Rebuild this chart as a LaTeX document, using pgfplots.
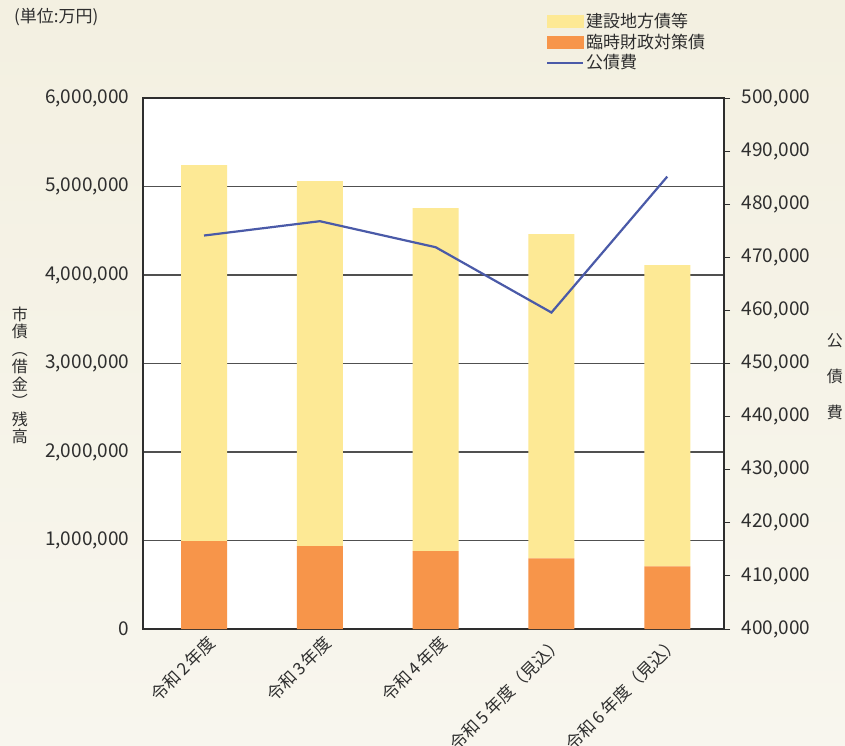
\documentclass[border=0pt]{standalone}
\usepackage{pgfplots}
\pgfplotsset{compat=1.18}
\usepackage{fontspec}
\setmainfont{Noto Sans CJK JP}
\definecolor{bgtop}{HTML}{F3F0E1}
\definecolor{bgbot}{HTML}{F8F6EE}
\definecolor{barY}{HTML}{FDE995}
\definecolor{barO}{HTML}{F7954A}
\definecolor{lineB}{HTML}{4A5AA8}
\definecolor{txt}{HTML}{2E2E2E}
\definecolor{gridc}{HTML}{505050}
\begin{document}
\begin{tikzpicture}
\useasboundingbox (0pt,0pt) rectangle (845pt,-745pt);
\shade[top color=bgtop,bottom color=bgbot] (0pt,0pt) rectangle (845pt,-745pt);
\begin{axis}[
  at={(143pt,-629pt)}, anchor=south west,
  scale only axis, width=581pt, height=531pt,
  xmin=-0.527, xmax=4.49, ymin=0, ymax=6000000,
  axis background/.style={fill=white},
  axis line style={txt, line width=1.2pt},
  ybar stacked, bar width=46pt,
  xtick={0,1,2,3,4},
  xticklabels={令和\,2\,年度,令和\,3\,年度,令和\,4\,年度,令和\,5\,年度（見込）,令和\,6\,年度（見込）},
  xticklabel style={rotate=45, anchor=north east, font=\fontsize{17}{20}\selectfont, text=txt, xshift=2pt, yshift=-2pt},
  major x tick style={draw=none},
  ytick={0,1000000,2000000,3000000,4000000,5000000,6000000},
  yticklabels={{0},{1,000,000},{2,000,000},{3,000,000},{4,000,000},{5,000,000},{6,000,000}},
  major y tick style={draw=none},
  scaled y ticks=false,
  yticklabel style={font=\fontsize{19}{22}\selectfont, text=txt, xshift=-10pt},
  ymajorgrids, major grid style={gridc, line width=1.1pt},
  ylabel={市\\債\\︵\\借\\金\\︶\\残\\高},
  every axis y label/.style={at={(axis description cs:-0.212,0.478)}, anchor=center, align=center, font=\fontsize{16}{17.5}\selectfont, text=txt},
  legend style={at={(axis description cs:0.688,1.168)}, anchor=north west, draw=none, fill=none,
    font=\fontsize{17}{20}\selectfont, text=txt, row sep=1pt, cells={anchor=west}},
  clip=false,
]
\addlegendimage{legend image code/.code={\fill[barY] (0pt,-6pt) rectangle (36pt,6pt);}}
\addlegendentry{建設地方債等}
\addlegendimage{legend image code/.code={\fill[barO] (0pt,-6pt) rectangle (36pt,6pt);}}
\addlegendentry{臨時財政対策債}
\addlegendimage{legend image code/.code={\draw[lineB, line width=2.2pt] (0pt,0pt) -- (36pt,0pt);}}
\addlegendentry{公債費}
\addplot[fill=barO, draw=none, forget plot] coordinates {(0,992000) (1,936000) (2,879000) (3,799000) (4,708000)};
\addplot[fill=barY, draw=none, forget plot] coordinates {(0,4251000) (1,4126000) (2,3878000) (3,3664000) (4,3405000)};
\node[anchor=west, font=\fontsize{17}{20}\selectfont, text=txt] at (axis description cs:-0.228,1.1525) {(単位:万円)};
\end{axis}
\begin{axis}[
  at={(143pt,-629pt)}, anchor=south west,
  scale only axis, width=581pt, height=531pt,
  xmin=-0.527, xmax=4.49, ymin=400000, ymax=500000,
  axis x line=none,
  axis y line*=right,
  axis line style={txt, line width=1.2pt},
  ytick={400000,410000,420000,430000,440000,450000,460000,470000,480000,490000,500000},
  yticklabels={{400,000},{410,000},{420,000},{430,000},{440,000},{450,000},{460,000},{470,000},{480,000},{490,000},{500,000}},
  scaled y ticks=false,
  major y tick style={txt, line width=1pt},
  tick align=outside, major tick length=6pt,
  yticklabel style={font=\fontsize{19}{22}\selectfont, text=txt, xshift=8pt},
  ylabel={公\\債\\費},
  every axis y label/.style={at={(axis description cs:1.191,0.476)}, anchor=center, align=center, font=\fontsize{16}{36}\selectfont, text=txt},
]
\addplot[lineB, line width=2.2pt, mark=none] coordinates {(0,474100) (1,476800) (2,471900) (3,459600) (4,485200)};
\end{axis}
\end{tikzpicture}
\end{document}
